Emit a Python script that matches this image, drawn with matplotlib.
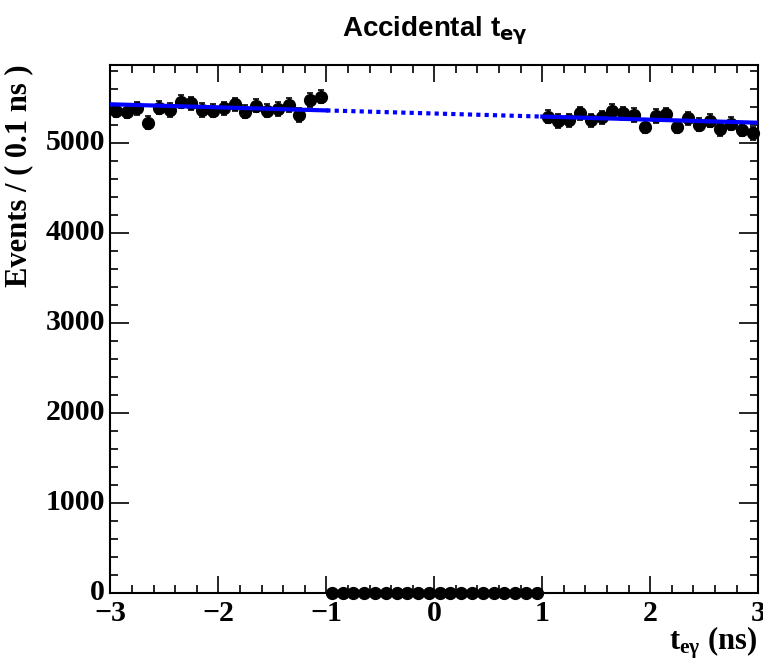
import matplotlib
matplotlib.use("Agg")
import matplotlib.pyplot as plt
from matplotlib.ticker import MultipleLocator
import numpy as np

plt.rcParams["mathtext.fontset"] = "custom"
plt.rcParams["mathtext.rm"] = "Liberation Serif:bold"
plt.rcParams["mathtext.bf"] = "Liberation Serif:bold"
plt.rcParams["mathtext.it"] = "Liberation Serif:bold"

# bin centres, 0.1 ns bins from -3 to 3
t_left = [-2.95, -2.85, -2.75, -2.65, -2.55, -2.45, -2.35, -2.25, -2.15, -2.05,
          -1.95, -1.85, -1.75, -1.65, -1.55, -1.45, -1.35, -1.25, -1.15, -1.05]
n_left = [5356, 5344, 5382, 5222, 5389, 5363, 5456, 5438, 5363, 5356,
          5382, 5427, 5344, 5411, 5356, 5374, 5419, 5308, 5474, 5511]
t_mid = [-0.95, -0.85, -0.75, -0.65, -0.55, -0.45, -0.35, -0.25, -0.15, -0.05,
         0.05, 0.15, 0.25, 0.35, 0.45, 0.55, 0.65, 0.75, 0.85, 0.95]
n_mid = [0] * 20
t_right = [1.05, 1.15, 1.25, 1.35, 1.45, 1.55, 1.65, 1.75, 1.85, 1.95,
           2.05, 2.15, 2.25, 2.35, 2.45, 2.55, 2.65, 2.75, 2.85, 2.95]
n_right = [5289, 5241, 5252, 5327, 5252, 5282, 5356, 5327, 5308, 5178,
           5297, 5316, 5178, 5271, 5197, 5244, 5149, 5208, 5141, 5104]

# linear fit to the sidebands: value at -3 and at +3
fit_x = [-3.0, 3.0]
fit_y = [5427, 5222]

fig = plt.figure(figsize=(7.63, 6.66), dpi=100)
ax = fig.add_axes([0.1446, 0.110, 0.8492, 0.7929])

t_all = np.array(t_left + t_mid + t_right)
n_all = np.array(n_left + n_mid + n_right, dtype=float)
ax.errorbar(t_all, n_all, yerr=np.sqrt(n_all), fmt="o", color="black",
            markersize=8.5, elinewidth=1.2, capsize=2.5, capthick=1.2, zorder=3,
            clip_on=False)

slope = (fit_y[1] - fit_y[0]) / (fit_x[1] - fit_x[0])
def f(x):
    return fit_y[0] + slope * (np.asarray(x) - fit_x[0])
xl = np.array([-3.0, -1.0]); xm = np.array([-1.0, 1.0]); xr = np.array([1.0, 3.0])
ax.plot(xl, f(xl), color="#0000ff", lw=3, zorder=4)
ax.plot(xr, f(xr), color="#0000ff", lw=3, zorder=4)
ax.plot(xm, f(xm), color="#0000ff", lw=3, ls=(0, (1, 1)), zorder=4)

ax.set_xlim(-3, 3)
ax.set_ylim(0, 5867)
ax.xaxis.set_major_locator(MultipleLocator(1))
ax.xaxis.set_minor_locator(MultipleLocator(0.2))
ax.yaxis.set_major_locator(MultipleLocator(1000))
ax.yaxis.set_minor_locator(MultipleLocator(200))
ax.tick_params(which="both", direction="in", top=True, right=True, width=1.2, colors="black")
ax.tick_params(which="major", axis="x", length=12)
ax.tick_params(which="major", axis="y", length=13.5)
ax.tick_params(which="minor", length=6)
for s in ax.spines.values():
    s.set_linewidth(1.5)

ax.set_xticklabels([])
ax.set_yticklabels([])
for v in range(-3, 4):
    lab = str(v).replace("-", "\u2212")
    ax.text(v, -80, lab, ha="center", va="top", fontsize=21.5, fontweight="bold",
            family="Liberation Serif", transform=ax.transData)
for v in range(0, 6000, 1000):
    ax.text(-3.05, v, str(v), ha="right", va="center", fontsize=21.5, fontweight="bold",
            family="Liberation Serif", transform=ax.transData)

fig.text(0.025, 0.903, "Events / ( 0.1 ns )", rotation=90, ha="center", va="top",
         fontsize=22, fontweight="bold", family="Liberation Serif")
fig.text(0.992, 0.025, r"t$_{\mathbf{e\gamma}}$ (ns)", ha="right", va="baseline",
         fontsize=22, fontweight="bold", family="Liberation Serif")
t = fig.text(0.57, 0.945, r"Accidental t$_{\mathbf{e\gamma}}$", ha="center", va="baseline",
             fontsize=20, fontweight="bold", family="Liberation Sans")
t.set_math_fontfamily("dejavusans")

fig.savefig("out.png", dpi=100)
